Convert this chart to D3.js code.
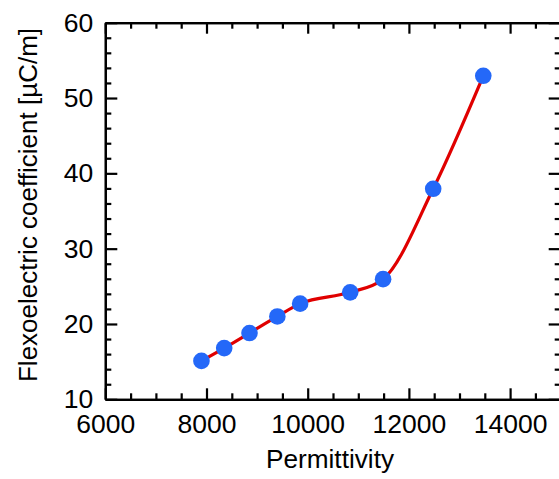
<!DOCTYPE html>
<meta charset="utf-8">
<style>
body { margin: 0; background: #fff; }
svg text { font-family: Arial, "Liberation Sans", sans-serif; fill: #000; }
.axis path, .axis line { stroke: #000; stroke-width: 2.2; }
.axis text { font-size: 26.5px; }
</style>
<script src="https://d3js.org/d3.v7.min.js"></script>
<svg id="chart" width="559" height="479"></svg>
<script>
// values
var permittivity = [7900, 8350, 8850, 9400, 9850, 10840, 11490, 12480, 13470];
var flexo = [15.1, 16.8, 18.8, 21.0, 22.7, 24.2, 25.95, 37.95, 52.95];
var xTicks = [6000, 8000, 10000, 12000, 14000];
var yTicks = [10, 20, 30, 40, 50, 60];

var svg = d3.select("#chart");

var pl = 105.3, pr = 560.7, pt = 22.7, pb = 399.3;

var x = d3.scaleLinear().domain([6000, 15000]).range([pl, pr]);
var y = d3.scaleLinear().domain([10, 60]).range([pb, pt]);

var xMinor = d3.range(6000, 15001, 500).filter(function(d) { return d % 2000 !== 0; });
var yMinor = d3.range(10, 61, 2).filter(function(d) { return d % 10 !== 0; });

function addAxis(axis, tr) {
  return svg.append("g").attr("class", "axis").attr("transform", tr).call(axis);
}

// minor ticks
addAxis(d3.axisBottom(x).tickValues(xMinor).tickSize(-6).tickSizeOuter(0).tickFormat(""), "translate(0," + pb + ")");
addAxis(d3.axisTop(x).tickValues(xMinor).tickSize(-6).tickSizeOuter(0).tickFormat(""), "translate(0," + pt + ")");
addAxis(d3.axisLeft(y).tickValues(yMinor).tickSize(-6).tickSizeOuter(0).tickFormat(""), "translate(" + pl + ",0)");
addAxis(d3.axisRight(y).tickValues(yMinor).tickSize(-6).tickSizeOuter(0).tickFormat(""), "translate(" + pr + ",0)");

// major ticks
addAxis(d3.axisBottom(x).tickValues(xTicks).tickSize(-11).tickSizeOuter(0).tickPadding(15).tickFormat(d3.format("d")), "translate(0," + pb + ")");
addAxis(d3.axisTop(x).tickValues(xTicks).tickSize(-11).tickSizeOuter(0).tickFormat(""), "translate(0," + pt + ")");
addAxis(d3.axisLeft(y).tickValues(yTicks).tickSize(-12).tickSizeOuter(0).tickPadding(12).tickFormat(d3.format("d")), "translate(" + pl + ",0)");
addAxis(d3.axisRight(y).tickValues(yTicks).tickSize(-12).tickSizeOuter(0).tickFormat(""), "translate(" + pr + ",0)");

svg.selectAll(".axis text").attr("fill", "#000");

var pts = permittivity.map(function(d, i) { return [d, flexo[i]]; });

// smooth curve through the points, no overshoot
var line = d3.line()
  .x(function(d) { return x(d[0]); })
  .y(function(d) { return y(d[1]); })
  .curve(d3.curveMonotoneX);

svg.append("path")
  .datum(pts)
  .attr("fill", "none")
  .attr("stroke", "#e00000")
  .attr("stroke-width", 3.2)
  .attr("d", line);

svg.append("g").selectAll("circle")
  .data(pts)
  .enter().append("circle")
    .attr("cx", function(d) { return x(d[0]); })
    .attr("cy", function(d) { return y(d[1]); })
    .attr("r", 8.3)
    .attr("fill", "#2468f8");

svg.append("text")
  .attr("x", 330)
  .attr("y", 468)
  .attr("text-anchor", "middle")
  .style("font-size", "26.2px")
  .text("Permittivity");

svg.append("text")
  .attr("transform", "translate(37,205) rotate(-90)")
  .attr("text-anchor", "middle")
  .style("font-size", "26px")
  .text("Flexoelectric coefficient [\u00b5C/m]");
</script>
